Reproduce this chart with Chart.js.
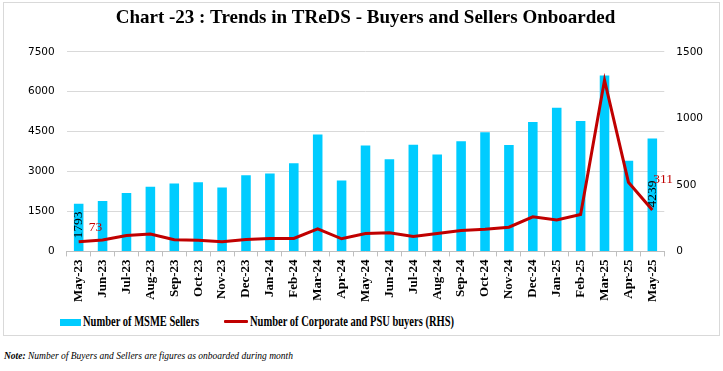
<!DOCTYPE html>
<html>
<head>
<meta charset="utf-8">
<script src="https://cdn.jsdelivr.net/npm/chart.js@4.4.1/dist/chart.umd.min.js"></script>
<style>
  body { margin: 0; background: #fff; font-family: "Liberation Serif", serif; }
  #frame { position: absolute; left: 3px; top: 2px; width: 715px; height: 332px; border: 1px solid #d9d9d9; }
  #wrap { position: absolute; left: 0; top: 0; width: 723px; height: 309px; }
  .swatch { position: absolute; }
  .legtext { position: absolute; top: 313px; font-size: 14px; line-height: 18px; font-weight: bold; color: #000; white-space: nowrap; transform: scaleX(0.75); transform-origin: left center; }
  #note { position: absolute; left: 4px; top: 351px; font: italic 9.5px "Liberation Serif", serif; color: #000; }
</style>
</head>
<body>
<div id="frame"></div>
<div id="wrap"><canvas id="trends"></canvas></div>
<div id="legend"></div>
<div id="note"><b>Note:</b> Number of Buyers and Sellers are figures as onboarded during month</div>
<script>
const months = ['May-23','Jun-23','Jul-23','Aug-23','Sep-23','Oct-23','Nov-23','Dec-23','Jan-24','Feb-24','Mar-24','Apr-24',
  'May-24','Jun-24','Jul-24','Aug-24','Sep-24','Oct-24','Nov-24','Dec-24','Jan-25','Feb-25','Mar-25','Apr-25','May-25']
const msmeSellers = [1793,1890,2190,2425,2550,2600,2400,2865,2925,3310,4390,2665,
  3975,3465,4010,3640,4140,4475,4000,4865,5400,4900,6610,3410,4239]
const corpBuyers = [73,85,120,130,87,84,72,90,97,97,170,95,
  135,140,112,135,157,167,182,260,237,277,1287,520,311]
const leftTicks = [0,1500,3000,4500,6000,7500]
const rightTicks = [0,500,1000,1500]

const serif = '"Liberation Serif", serif'
const tickFont = { family: '"DejaVu Sans", sans-serif', size: 10.5 }

// labels shown only on first and last month, like the original
const endLabels = {
  id: 'endLabels',
  afterDatasetsDraw(chart) {
    const ctx = chart.ctx
    const bars = chart.getDatasetMeta(0).data
    const pts = chart.getDatasetMeta(1).data
    const last = bars.length - 1
    ctx.save()
    ctx.font = '13.5px ' + serif
    ctx.textBaseline = 'middle'
    ctx.fillStyle = '#000'
    ;[0, last].forEach(i => {
      ctx.save()
      ctx.translate(bars[i].x, i === 0 ? bars[i].base - 26 : pts[i].y - 16)
      ctx.rotate(-Math.PI / 2)
      ctx.textAlign = 'center'
      ctx.fillText(String(msmeSellers[i]), 0, 0)
      ctx.restore()
    })
    ctx.fillStyle = '#C00000'
    ctx.textAlign = 'left'
    ctx.fillText(String(corpBuyers[0]), pts[0].x + 10, pts[0].y - 14)
    ctx.fillText(String(corpBuyers[last]), pts[last].x + 1, pts[last].y - 31)
    ctx.restore()
  }
}

const chart = new Chart(document.getElementById('trends'), {
  type: 'bar',
  data: {
    labels: months,
    datasets: [
      {
        type: 'bar',
        label: 'Number of MSME Sellers',
        data: msmeSellers,
        backgroundColor: '#00CCFF',
        borderWidth: 0,
        barPercentage: 0.4,
        categoryPercentage: 1,
        yAxisID: 'y',
        order: 2
      },
      {
        type: 'line',
        label: 'Number of Corporate and PSU buyers (RHS)',
        data: corpBuyers,
        borderColor: '#C00000',
        backgroundColor: '#C00000',
        borderWidth: 3,
        pointRadius: 0,
        tension: 0,
        yAxisID: 'y1',
        order: 1
      }
    ]
  },
  options: {
    responsive: true,
    maintainAspectRatio: false,
    animation: false,
    layout: { padding: { left: 16, right: 8, top: 5, bottom: 4 } },
    plugins: {
      title: {
        display: true,
        text: 'Chart -23 : Trends in TReDS - Buyers and Sellers Onboarded',
        color: '#000',
        font: { family: serif, size: 19, weight: 'bold' },
        padding: { top: 2, bottom: 22 }
      },
      legend: { display: false },
      tooltip: { enabled: false }
    },
    scales: {
      x: {
        grid: { display: true, drawOnChartArea: false, tickLength: 5, color: '#bfbfbf' },
        border: { color: '#bfbfbf' },
        ticks: { color: '#000', maxRotation: 90, minRotation: 90, padding: 3, font: { family: serif, size: 13, weight: 'bold' } }
      },
      y: {
        position: 'left',
        min: 0,
        max: 7500,
        afterBuildTicks: axis => { axis.ticks = leftTicks.map(v => ({ value: v })) },
        grid: { color: '#d9d9d9', drawTicks: false },
        border: { display: false },
        ticks: { color: '#000', padding: 12, font: tickFont, callback: v => String(v) }
      },
      y1: {
        position: 'right',
        min: 0,
        max: 1500,
        afterBuildTicks: axis => { axis.ticks = rightTicks.map(v => ({ value: v })) },
        grid: { display: false, drawTicks: false },
        border: { display: false },
        ticks: { color: '#000', padding: 12, font: tickFont, callback: v => String(v) }
      }
    }
  },
  plugins: [endLabels]
})

// legend built from the chart's datasets, placed like the original (left of centre)
const legendSpots = [
  { swatch: 'left:60px;top:319px;width:21px;height:7px;', text: 83 },
  { swatch: 'left:224px;top:320px;width:24px;height:3px;border-radius:1px;', text: 250 }
]
const legendEl = document.getElementById('legend')
chart.data.datasets.forEach((ds, i) => {
  const sw = document.createElement('div')
  sw.className = 'swatch'
  sw.style.cssText = legendSpots[i].swatch + 'background:' + (ds.type === 'line' ? ds.borderColor : ds.backgroundColor)
  legendEl.appendChild(sw)
  const tx = document.createElement('div')
  tx.className = 'legtext'
  tx.style.left = legendSpots[i].text + 'px'
  tx.textContent = ds.label
  legendEl.appendChild(tx)
})
</script>
</body>
</html>
